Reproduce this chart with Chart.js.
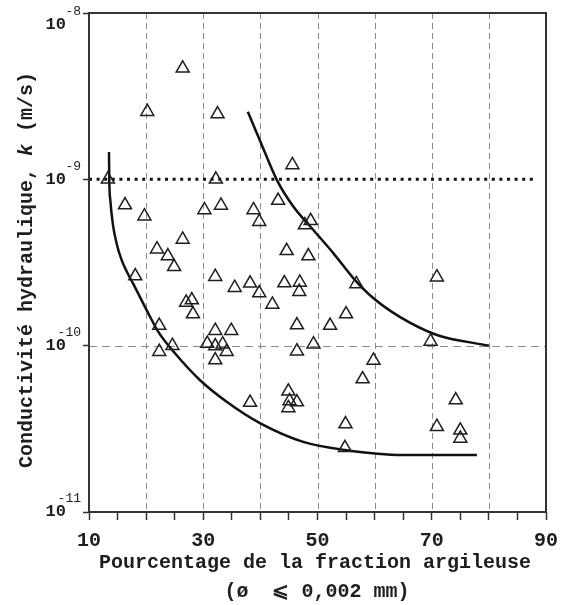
<!DOCTYPE html>
<html>
<head>
<meta charset="utf-8">
<title>Conductivité hydraulique</title>
<script src="https://cdn.jsdelivr.net/npm/chart.js@4.4.0/dist/chart.umd.min.js"></script>
<style>
    html, body { margin: 0; padding: 0; background: #fff; }
    #wrap { width: 562px; height: 605px; }
</style>
</head>
<body>
<div id="wrap"><canvas id="chart" width="562" height="605"></canvas></div>
<script>
// Mesures : % de fraction argileuse et conductivité k (m/s)
const clayPct = [26.4, 20.2, 32.5, 13.3, 32.2, 45.6, 16.3, 19.7, 30.2, 33.1,
                 38.8, 39.8, 43.1, 47.8, 48.8, 26.4, 21.9, 23.8, 24.9, 18.1,
                 32.1, 35.5, 38.2, 39.8, 44.2, 46.9, 46.8, 42.1, 44.6, 48.4,
                 56.8, 55.0, 52.2, 46.4, 49.3, 46.4, 59.8, 57.9, 44.9, 45.1,
                 46.4, 44.9, 38.2, 54.9, 54.8, 70.9, 69.8, 74.2, 70.9, 75.0,
                 75.0, 27.0, 28.0, 28.2, 32.1, 34.9, 30.7, 32.1, 33.4, 34.1,
                 32.1, 22.3, 22.3, 24.6];
const conductivity = [4.65e-9, 2.55e-9, 2.47e-9, 1.0e-9, 1.0e-9, 1.22e-9, 7.0e-10, 6.0e-10, 6.55e-10, 6.97e-10,
                      6.55e-10, 5.56e-10, 7.46e-10, 5.31e-10, 5.63e-10, 4.35e-10, 3.8e-10, 3.46e-10, 2.98e-10, 2.62e-10,
                      2.6e-10, 2.23e-10, 2.37e-10, 2.07e-10, 2.38e-10, 2.4e-10, 2.11e-10, 1.77e-10, 3.72e-10, 3.46e-10,
                      2.35e-10, 1.55e-10, 1.32e-10, 1.33e-10, 1.02e-10, 9.27e-11, 8.15e-11, 6.3e-11, 5.32e-11, 4.65e-11,
                      4.58e-11, 4.22e-11, 4.55e-11, 3.38e-11, 2.43e-11, 2.58e-10, 1.06e-10, 4.71e-11, 3.26e-11, 3.1e-11,
                      2.77e-11, 1.82e-10, 1.88e-10, 1.55e-10, 1.23e-10, 1.23e-10, 1.03e-10, 9.95e-11, 1.02e-10, 9.2e-11,
                      8.2e-11, 1.32e-10, 9.2e-11, 1.0e-10];

// Enveloppes inférieure et supérieure
const lowerX = [13.5, 13.55, 13.73, 14.2, 14.9, 15.72, 16.65, 17.75, 20.7, 22.13, 25.05, 29.4, 34.1, 40.0, 47.5, 54.8, 65.0, 77.9];
const lowerK = [1.46e-9, 9.9e-10, 7.52e-10, 5.31e-10, 4.03e-10, 3.27e-10, 2.77e-10, 2.35e-10, 1.49e-10, 1.21e-10,
                9.0e-11, 6.22e-11, 4.6e-11, 3.41e-11, 2.64e-11, 2.36e-11, 2.2e-11, 2.2e-11];
const upperX = [37.8, 39.9, 42.9, 45.8, 49.0, 52.8, 56.3, 59.7, 64.4, 70.9, 80.0];
const upperK = [2.55e-9, 1.72e-9, 9.9e-10, 6.84e-10, 5.08e-10, 3.59e-10, 2.54e-10, 1.94e-10, 1.49e-10, 1.16e-10, 1.0e-10];

// Ligne de référence k = 1e-9
const refX = [10, 88];
const refK = [1e-9, 1e-9];

const xTickLabels = [10, 30, 50, 70, 90];
const xGridValues = [20, 30, 40, 50, 60, 70, 80];
const yDecades = [1e-11, 1e-10, 1e-9, 1e-8];
const yExponents = ['-11', '-10', '-9', '-8'];
const yDashed = [1e-10];

const FONT = "'Liberation Mono', 'DejaVu Sans Mono', monospace";
const INK = '#1e1e1e';

const toXY = (xs, ys) => xs.map((v, i) => ({ x: v, y: ys[i] }));

const decor = {
    id: 'decor',
    beforeDatasetsDraw(chart) {
        const { ctx, chartArea: a, scales: { x, y } } = chart;
        ctx.save();
        ctx.strokeStyle = '#8c8c8c';
        ctx.lineWidth = 1;
        ctx.setLineDash([6, 4]);
        xGridValues.forEach(v => {
            const px = Math.round(x.getPixelForValue(v)) + 0.5;
            ctx.beginPath();
            ctx.moveTo(px, a.top);
            ctx.lineTo(px, a.bottom);
            ctx.stroke();
        });
        ctx.setLineDash([8, 5]);
        yDashed.forEach(v => {
            const py = Math.round(y.getPixelForValue(v)) + 0.5;
            ctx.beginPath();
            ctx.moveTo(a.left, py);
            ctx.lineTo(a.right, py);
            ctx.stroke();
        });
        ctx.restore();
    },
    afterDatasetsDraw(chart) {
        const { ctx, chartArea: a, scales: { y } } = chart;
        ctx.save();

        // cadre
        ctx.strokeStyle = '#333';
        ctx.lineWidth = 2;
        ctx.strokeRect(a.left, a.top, a.right - a.left, a.bottom - a.top);

        // étiquettes de l'axe y : 10 puissance n
        ctx.fillStyle = INK;
        ctx.textBaseline = 'middle';
        ctx.textAlign = 'right';
        yDecades.forEach((v, i) => {
            let py = y.getPixelForValue(v);
            if (py < a.top + 5) py += 12;
            ctx.font = 'bold 17px ' + FONT;
            ctx.fillText('10', 66, py);
            ctx.font = '13px ' + FONT;
            ctx.fillText(yExponents[i], 81, py - 13);
        });

        // titre de l'axe x (deux lignes)
        ctx.textAlign = 'center';
        ctx.font = 'bold 20px ' + FONT;
        ctx.fillText('Pourcentage de la fraction argileuse', 315, 563);
        ctx.fillText('(ø  ⩽ 0,002 mm)', 317, 592);

        // titre de l'axe y, avec k en italique
        ctx.translate(27, 270);
        ctx.rotate(-Math.PI / 2);
        const parts = [
            ['Conductivité hydraulique, ', 'bold 20px ' + FONT],
            ['k', 'italic bold 20px ' + FONT],
            [' (m/s)', 'bold 20px ' + FONT]
        ];
        let total = 0;
        parts.forEach(([t, f]) => { ctx.font = f; total += ctx.measureText(t).width; });
        let cx = -total / 2;
        ctx.textAlign = 'left';
        parts.forEach(([t, f]) => {
            ctx.font = f;
            ctx.fillText(t, cx, 0);
            cx += ctx.measureText(t).width;
        });
        ctx.restore();
    }
};

new Chart(document.getElementById('chart'), {
    type: 'scatter',
    data: {
        datasets: [
            {
                label: 'mesures',
                data: toXY(clayPct, conductivity),
                pointStyle: 'triangle',
                pointRadius: 7.5,
                pointBorderWidth: 1.5,
                borderColor: INK,
                backgroundColor: 'rgba(0,0,0,0)',
                order: 0
            },
            {
                label: 'enveloppe inférieure',
                data: toXY(lowerX, lowerK),
                showLine: true,
                cubicInterpolationMode: 'monotone',
                borderColor: '#111',
                borderWidth: 2.5,
                pointRadius: 0,
                order: 1
            },
            {
                label: 'enveloppe supérieure',
                data: toXY(upperX, upperK),
                showLine: true,
                cubicInterpolationMode: 'monotone',
                borderColor: '#111',
                borderWidth: 2.5,
                pointRadius: 0,
                order: 1
            },
            {
                label: 'k = 1e-9',
                data: toXY(refX, refK),
                showLine: true,
                borderColor: '#111',
                borderWidth: 3,
                borderDash: [3, 4.6],
                pointRadius: 0,
                order: 2
            }
        ]
    },
    options: {
        responsive: false,
        animation: false,
        devicePixelRatio: 1,
        layout: { padding: { top: 13, right: 16, left: 0, bottom: 0 } },
        plugins: {
            legend: { display: false },
            tooltip: { enabled: false }
        },
        scales: {
            x: {
                type: 'linear',
                min: 10,
                max: 90,
                border: { display: false },
                grid: {
                    drawOnChartArea: false,
                    drawTicks: true,
                    tickLength: 8,
                    tickColor: '#333',
                    tickWidth: 1.5
                },
                ticks: {
                    stepSize: 5,
                    autoSkip: false,
                    maxRotation: 0,
                    padding: 9,
                    color: INK,
                    font: { family: FONT, size: 20, weight: 'bold' },
                    callback: v => xTickLabels.includes(v) ? String(v) : ''
                },
                afterFit: s => {
                    s.height = 93;
                    s.paddingLeft = 0;
                    s.paddingRight = 0;
                }
            },
            y: {
                type: 'logarithmic',
                min: 1e-11,
                max: 1e-8,
                border: { display: false },
                grid: {
                    drawOnChartArea: false,
                    drawTicks: true,
                    tickLength: 6,
                    tickColor: '#333',
                    tickWidth: 1.5
                },
                ticks: { display: false },
                afterBuildTicks: s => { s.ticks = yDecades.map(v => ({ value: v })); },
                afterFit: s => { s.width = 89; }
            }
        }
    },
    plugins: [decor]
});
</script>
</body>
</html>
